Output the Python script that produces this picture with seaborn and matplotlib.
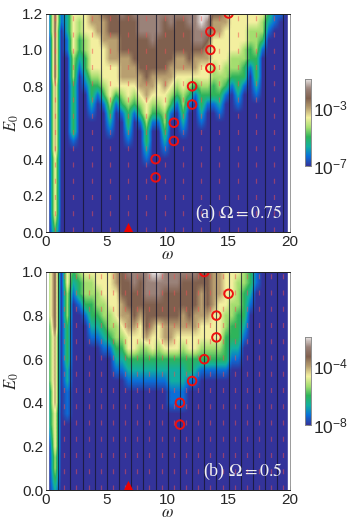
import numpy as np
import pandas as pd
import matplotlib.pyplot as plt
import seaborn as sns

sns.set_style('ticks')
plt.rcParams['font.family'] = ['Liberation Sans', 'DejaVu Sans']
plt.rcParams['mathtext.fontset'] = 'stix'

# strength level per omega column (0.25, 0.75 ... 19.75), read bottom to top in steps of E0 = 0.05
# level 0 is the colorbar floor, level 6 is the labelled upper tick, left zeros are filled in below
columns_a = [
    '111', '3455555556666666677777777', '11', '11222', '133333344455555',
    '1233445', '123344555', '123345555566', '1345555666', '13455556667',
    '12345555666777', '13555666777', '134566677778', '123345566677777', '134566777778',
    '1345667777888', '12334556677777888', '1345667778888', '1345567777888', '1234455667777778',
    '134566777788', '13456677778', '12344556677778', '13456777788', '1356678888',
    '1233455678899', '13455667889', '13344555667', '123445555667', '1344555566',
    '134455555', '12334455555', '133445555', '1334455', '1233344455',
    '13445', '123', '11', '1', '0',
]
columns_b = [
    '1222233333344444', '234455556666666777777', '0', '11122333344455', '123',
    '1334', '13445', '1233445', '1234455', '12344555',
    '13445555', '1234455566', '1234566777', '12355667778', '12355677788',
    '12345567778', '12346777888', '12355677889', '12345577889', '12356677788',
    '1122356677788', '1122355677788', '1122345667778', '13355677778', '12355667778',
    '1345566677', '1345567777', '1345556666', '1345555666', '1333445555',
    '123344555', '123334445', '1233344', '1233', '11',
    '0', '0', '0', '0', '0',
]
omega_step = 0.5
E_step = 0.05

odd_a = [0.75, 2.25, 3.75, 5.25, 6.75, 8.25, 9.75, 11.25, 12.75, 14.25, 15.75, 17.25, 18.75]
even_a = [1.5, 3, 4.5, 6, 7.5, 9, 10.5, 12, 13.5, 15, 16.5, 18, 19.5]
odd_b = [1.5, 2.5, 3.5, 4.5, 5.5, 6.5, 7.5, 8.5, 9.5, 10.5, 11.5, 12.5, 13.5, 14.5, 15.5, 16.5, 17.5, 18.5, 19.5]
even_b = [1, 2, 3, 4, 5, 6, 7, 8, 9, 10, 11, 12, 13, 14, 15, 16, 17, 18, 19]

circle_w_a = [9, 9, 10.5, 10.5, 12, 12, 13.5, 13.5, 13.5, 15]
circle_E_a = [0.3, 0.4, 0.5, 0.6, 0.7, 0.8, 0.9, 1.0, 1.1, 1.2]
circle_w_b = [11, 11, 12, 13, 14, 14, 15, 13]
circle_E_b = [0.3, 0.4, 0.5, 0.6, 0.7, 0.8, 0.9, 1.0]
triangle_w = 6.7

cmap = sns.blend_palette(['#33339a', '#0a6fd8', '#12b0a0', '#2fb45a', '#a6de70', '#f4f0a0',
                          '#b89f70', '#80604e', '#9a8178', '#e8e4e4'], n_colors=256, as_cmap=True)


def panel(ax_rect, cax_rect, columns, Emax, odd, even, cw, cE, label, cb_labels, ylabels):
    ax = fig.add_axes(ax_rect)
    cax = fig.add_axes(cax_rect)
    nrow = int(round(Emax / E_step)) + 1
    grid = np.array([[int(c) for c in s.zfill(nrow)] for s in columns]).T[::-1]
    df = pd.DataFrame(grid)
    sns.heatmap(df, ax=ax, cbar_ax=cax, cmap=cmap, vmin=0, vmax=9, xticklabels=False, yticklabels=False)
    # smooth version of the same grid on top of the seaborn cells
    ax.imshow(grid, cmap=cmap, vmin=0, vmax=9, interpolation='bilinear', aspect='auto',
              extent=[0, grid.shape[1], grid.shape[0], 0], zorder=2)

    def X(w):
        return np.asarray(w) / omega_step

    def Y(E):
        return (Emax - np.asarray(E)) / E_step + 0.5

    ax.set_xlim(0, 40)
    ax.set_ylim(Y(0), Y(Emax))
    ax.axvspan(X(0), X(0.2), color='white', zorder=3)
    ax.axvspan(X(19.9), X(20), color='white', zorder=3)
    ax.vlines(X(even), Y(0), Y(Emax), color='#15152a', lw=0.8, alpha=0.75, zorder=4)
    ax.vlines(X(odd), Y(0), Y(Emax), color='#f05050', lw=0.9, alpha=0.5, linestyles=(0, (4, 9)), zorder=4)
    sns.scatterplot(x=X(cw), y=Y(cE), ax=ax, marker='o', s=38, facecolor='none', edgecolor='#ee1010',
                    linewidth=1.4, zorder=6, legend=False)
    sns.scatterplot(x=X([triangle_w]), y=Y([0]), ax=ax, marker='^', s=190, color='#ee0000',
                    linewidth=0, zorder=6, legend=False)

    ax.set_xticks(X([0, 5, 10, 15, 20]))
    ax.set_xticklabels(['0', '5', '10', '15', '20'])
    ax.set_yticks(Y(ylabels))
    ax.set_yticklabels([f'{v:.1f}' for v in ylabels])
    ax.set_yticks(Y(np.arange(0.1, Emax, 0.2)), minor=True)
    ax.tick_params(axis='both', which='major', labelsize=11, direction='in', length=3, width=0.7, pad=2,
                   color='#222222', bottom=True, left=True)
    ax.tick_params(axis='y', which='minor', direction='in', length=1.5, width=0.5, color='#222222', left=True)
    # scatterplot hides the labels when it finds no tick labels, so switch them on again
    ax.set_xlabel(r'$\omega$', fontsize=12, labelpad=-1, visible=True)
    ax.set_ylabel(r'$E_0$', fontsize=12, labelpad=1, visible=True)
    for name, sp in ax.spines.items():
        sp.set_visible(True)
        sp.set_linewidth(0.7)
        sp.set_zorder(8)
        sp.set_color('#222222' if name in ('top', 'bottom') else '#9a9a9a')
    ax.text(0.972, 0.035, label, transform=ax.transAxes, ha='right', va='bottom', color='#f0f0f0',
            fontsize=13, family='Liberation Serif', math_fontfamily='stix', zorder=7)

    cax.set_yticks([0, 6])
    cax.set_yticklabels(cb_labels)
    cax.tick_params(axis='y', labelsize=12.5, length=2, width=0.6, pad=2, right=True, direction='in', color='#333333')
    for sp in cax.spines.values():
        sp.set_visible(True)
        sp.set_linewidth(0.5)
        sp.set_color('#888888')


fig = plt.figure(figsize=(3.54, 5.24), dpi=100)
W, H = 354, 524
panel([46 / W, 1 - 232 / H, 243.5 / W, 218.5 / H], [305 / W, 1 - 166 / H, 5.5 / W, 87 / H],
      columns_a, 1.2, odd_a, even_a, circle_w_a, circle_E_a, r'(a) $\Omega = 0.75$',
      [r'$\mathregular{10^{-7}}$', r'$\mathregular{10^{-3}}$'], [0.0, 0.2, 0.4, 0.6, 0.8, 1.0, 1.2])
panel([46 / W, 1 - 490 / H, 243.5 / W, 218 / H], [305 / W, 1 - 425 / H, 5.5 / W, 88 / H],
      columns_b, 1.0, odd_b, even_b, circle_w_b, circle_E_b, r'(b) $\Omega = 0.5$',
      [r'$\mathregular{10^{-8}}$', r'$\mathregular{10^{-4}}$'], [0.0, 0.2, 0.4, 0.6, 0.8, 1.0])

plt.savefig('out.png', dpi=100)
